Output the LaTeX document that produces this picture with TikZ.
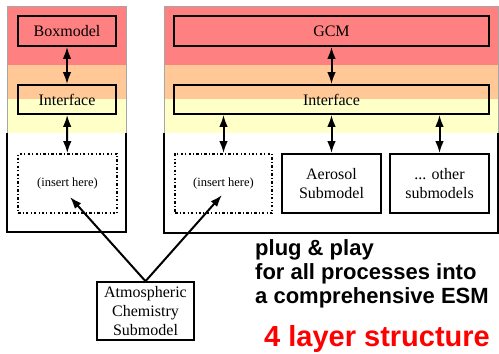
\documentclass[tikz,border=0pt]{standalone}
\usepackage{fontspec}
\setmainfont{Liberation Serif}
\newfontfamily\headfont{Liberation Sans}
\usetikzlibrary{arrows.meta}

\definecolor{bandred}{RGB}{255,128,128}
\definecolor{bandorange}{RGB}{255,200,150}
\definecolor{bandyellow}{RGB}{255,255,200}
\definecolor{headred}{RGB}{255,0,0}

\begin{document}
\begin{tikzpicture}[x=1pt,y=-1pt,
  box/.style={draw, line width=1.6pt, inner sep=0pt, align=center,
    font=\fontsize{16}{19}\selectfont},
  slot/.style={draw, line width=1.6pt, inner sep=0pt,
    dash pattern=on 2.5pt off 2.2pt on 1pt off 2.2pt,
    font=\fontsize{12.5}{15}\selectfont},
  link/.style={line width=2pt, {Latex[length=12pt,width=8.5pt]}-{Latex[length=12pt,width=8.5pt]}},
  feed/.style={line width=2pt, -{Latex[length=12pt,width=8.5pt]}},
  frameline/.style={line width=1.6pt},
  frametop/.style={line width=0.8pt, gray!70},
  slogan/.style={anchor=base west, inner sep=0pt,
    font=\headfont\bfseries\fontsize{22}{24}\selectfont},
]
\useasboundingbox (0,0) rectangle (499,354);

% layer bands, left panel
\fill[bandred]    (7,6)  rectangle (126,65);
\fill[bandorange] (7,65) rectangle (126,99);
\fill[bandyellow] (7,99) rectangle (126,133);
% layer bands, right panel
\fill[bandred]    (164,6)  rectangle (498,65);
\fill[bandorange] (164,65) rectangle (498,99);
\fill[bandyellow] (164,99) rectangle (498,133);

% panel frames
\draw[frametop] (7,133) -- (7,6) -- (126,6) -- (126,133);
\draw[frameline] (7,133) -- (7,232) -- (126,232) -- (126,133);
\draw[frametop] (164,133) -- (164,6) -- (498,6) -- (498,133);
\draw[frameline] (164,133) -- (164,233) -- (498,233) -- (498,133);

% left panel: box model
\node[box, minimum width=98pt, minimum height=30pt] (box1) at (67,31) {Boxmodel};
\node[box, minimum width=98pt, minimum height=29pt] (if1) at (67,99.5) {Interface};
\node[slot, minimum width=99pt, minimum height=59pt] (ins1) at (67.5,183.5) {(insert here)};

% right panel: GCM
\node[box, minimum width=315pt, minimum height=30pt] (gcm) at (331.5,31) {GCM};
\node[box, minimum width=315pt, minimum height=29pt] (if2) at (331.5,99.5) {Interface};
\node[slot, minimum width=97pt, minimum height=59pt] (ins2) at (223.5,183.5) {(insert here)};
\node[box, minimum width=99pt, minimum height=59pt] (aer) at (331.5,183.5) {Aerosol\\Submodel};
\node[box, minimum width=99pt, minimum height=59pt] (oth) at (439.5,183.5) {... other\\submodels};

% submodel to be plugged in
\node[box, minimum width=97pt, minimum height=58pt] (chem) at (145.5,311)
  {Atmospheric\\Chemistry\\Submodel};

% couplings
\draw[link] (box1) -- (if1);
\draw[link] (if1) -- (ins1);
\draw[link] (gcm) -- (if2);
\draw[link] (if2.south -| ins2.north) -- (ins2.north);
\draw[link] (if2.south -| aer.north) -- (aer.north);
\draw[link] (if2.south -| oth.north) -- (oth.north);

\coordinate (tip1) at (70,197);
\coordinate (tip2) at (222,195);
\draw[feed] (chem.north) -- (tip1);
\draw[feed] (chem.north) -- (tip2);

% slogan
\node[slogan] (s1) at (255,255.5) {plug \& play};
\node[slogan] (s2) at (255,279.5) {for all processes into};
\node[slogan] (s3) at (255,303.5) {a comprehensive ESM};
\node[anchor=base west, inner sep=0pt, text=headred,
  font=\headfont\bfseries\fontsize{29}{32}\selectfont] (s4) at (264,346) {4 layer structure};
\end{tikzpicture}
\end{document}
